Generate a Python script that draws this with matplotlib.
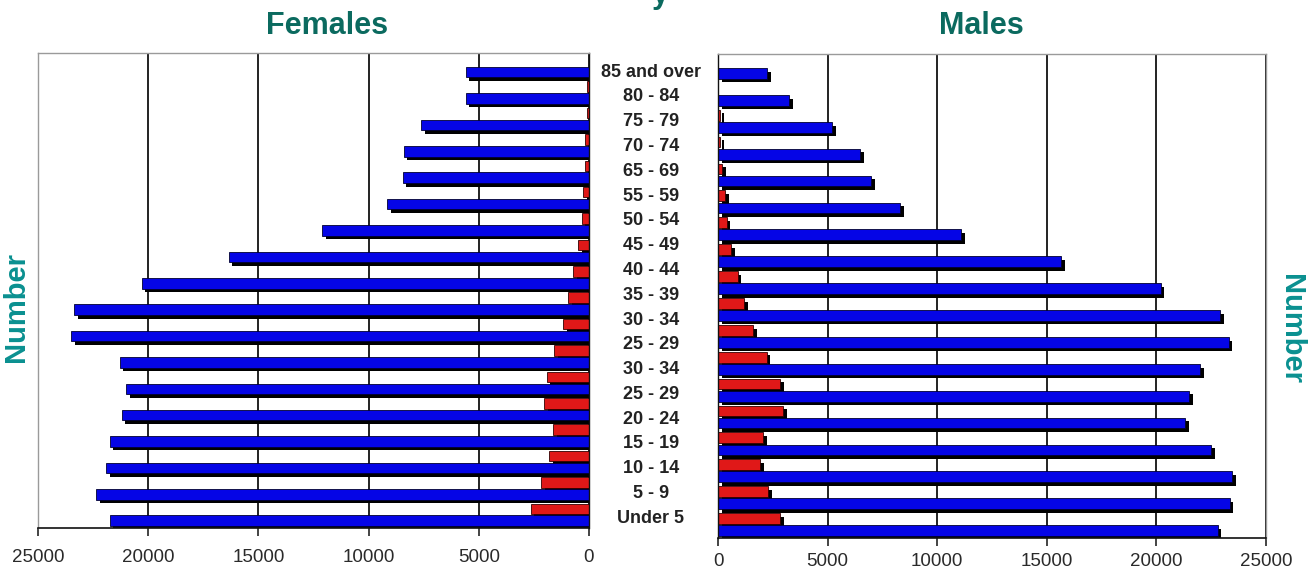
import matplotlib
matplotlib.use("Agg")
import matplotlib.pyplot as plt
import matplotlib.patheffects as pe
import numpy as np

plt.rcParams['font.family'] = ['Liberation Sans', 'DejaVu Sans']

# ---- data (top = oldest group) ----
age_labels = ["85 and over", "80 - 84", "75 - 79", "70 - 74", "65 - 69", "55 - 59",
              "50 - 54", "45 - 49", "40 - 44", "35 - 39", "30 - 34", "25 - 29",
              "30 - 34", "25 - 29", "20 - 24", "15 - 19", "10 - 14", "5 - 9", "Under 5"]

female_blue = [5600, 5600, 7600, 8400, 8450, 9150, 12100, 16350, 20300,
               23350, 23500, 21300, 21000, 21200, 21750, 21900, 22350, 21750]
female_red = [0, 80, 80, 180, 180, 260, 330, 480, 710,
              940, 1170, 1580, 1920, 2030, 1620, 1800, 2180, 2650]

male_blue = [2250, 3250, 5200, 6500, 7000, 8300, 11100, 15650, 20200,
             22900, 23300, 22000, 21500, 21300, 22500, 23450, 23350, 22800]
male_red = [0, 0, 100, 100, 200, 320, 400, 590, 900,
            1200, 1610, 2220, 2830, 2980, 2070, 1920, 2300, 2830]

x_ticks = [0, 5000, 10000, 15000, 20000, 25000]

BLUE = '#0505e6'
RED = '#e01818'
TITLE_TEAL = '#0b6a5f'
LABEL_TEAL = '#0a9090'

W, H = 1316, 569
fig = plt.figure(figsize=(W / 100, H / 100), dpi=100)


def frac(x0, y0, x1, y1):
    return [x0 / W, 1 - y1 / H, (x1 - x0) / W, (y1 - y0) / H]


ax_l = fig.add_axes(frac(38, 53, 589, 528))
ax_r = fig.add_axes(frac(718, 54, 1266, 538))
ax_m = fig.add_axes(frac(589, 53, 718, 530))

shadow = [pe.SimplePatchShadow(offset=(2.6, -2.6), shadow_rgbFace='black', alpha=1.0),
          pe.Normal()]

n = len(female_blue)
pos = np.arange(n)
off = 0.225
bh = 0.40


def draw_panel(ax, blue, red, invert):
    ax.set_axisbelow(True)
    b1 = ax.barh(pos - off, red, height=bh, color=RED, edgecolor='#300000', linewidth=0.6)
    b2 = ax.barh(pos + off, blue, height=bh, color=BLUE, edgecolor='#000030', linewidth=0.6)
    for p in list(b1) + list(b2):
        p.set_path_effects(shadow)
    ax.set_ylim(n - 0.5, -0.5)
    if invert:
        ax.set_xlim(25000, 0)
    else:
        ax.set_xlim(0, 25000)
    ax.set_xticks(x_ticks)
    ax.set_xticklabels([str(t) for t in x_ticks])
    ax.set_yticks([])
    ax.grid(axis='x', color='#111111', linewidth=1.3)
    for s in ax.spines.values():
        s.set_color('#9a9a9a')
        s.set_linewidth(1.0)
    ax.spines['bottom'].set_color('#111111')
    ax.spines['bottom'].set_linewidth(1.2)
    ax.tick_params(axis='x', direction='out', length=6, width=1.1, color='#111111',
                   labelsize=13.5, labelcolor='#2a2a2a')


draw_panel(ax_l, female_blue, female_red, True)
draw_panel(ax_r, male_blue, male_red, False)
ax_l.spines['right'].set_color('#111111')
ax_r.spines['left'].set_color('#111111')
ax_l.tick_params(axis='x', pad=9)
ax_r.tick_params(axis='x', pad=5)

# middle category labels
ax_m.set_axis_off()
ax_m.set_xlim(0, 1)
ax_m.set_ylim(18.47, -0.77)
for i, lab in enumerate(age_labels):
    ax_m.text(0.48, i, lab, ha='center', va='center', fontsize=13,
              fontweight='bold', color='#222222')

# titles (the main title is cut off at the top edge in the original, only the "y" shows)
fig.text(660 / W, 1 - 3 / H, "y", ha='center', va='baseline', fontsize=22,
         fontweight='bold', color=TITLE_TEAL)
fig.text(327 / W, 1 - 34 / H, "Females", ha='center', va='baseline', fontsize=22,
         fontweight='bold', color=TITLE_TEAL)
fig.text(981 / W, 1 - 34 / H, "Males", ha='center', va='baseline', fontsize=22,
         fontweight='bold', color=TITLE_TEAL)
fig.text(16 / W, 1 - 307 / H, "Number", ha='center', va='center', rotation=90,
         fontsize=21, fontweight='bold', color=LABEL_TEAL)
fig.text(1291 / W, 1 - 329 / H, "Number", ha='center', va='center', rotation=270,
         fontsize=21, fontweight='bold', color=LABEL_TEAL)

fig.savefig("out.png", dpi=100)
